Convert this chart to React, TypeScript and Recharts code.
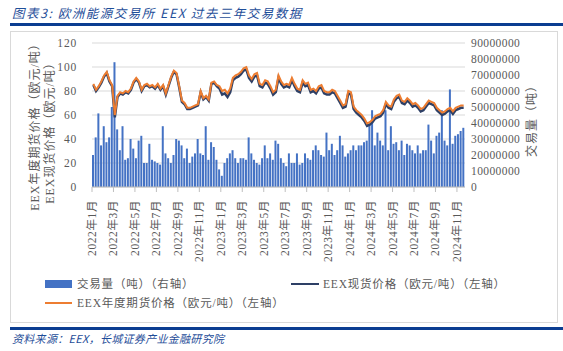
import React from 'react';
import { ComposedChart, Bar, Line, XAxis, YAxis, CartesianGrid } from 'recharts';

// 4 readings per month (roughly weekly), 2022年1月 .. mid 2024年11月
// 交易量, million tonnes
const volumeMt = [
  20, 31, 46, 26, 38, 28, 31, 50, 78, 36, 23, 38, 17, 18, 30, 24,
  18, 29, 32, 15, 15, 27, 17, 16, 15, 14, 38, 21, 18, 15, 20, 30,
  29, 26, 18, 24, 15, 19, 21, 30, 21, 20, 38, 17, 28, 25, 17, 11,
  7, 15, 18, 21, 23, 18, 15, 18, 18, 17, 31, 21, 17, 15, 14, 18,
  26, 18, 21, 17, 29, 27, 18, 15, 13, 21, 15, 15, 21, 14, 15, 21,
  18, 17, 23, 26, 23, 20, 19, 34, 23, 27, 20, 23, 32, 26, 19, 21,
  23, 26, 23, 26, 26, 28, 29, 39, 48, 26, 34, 29, 26, 48, 23, 38,
  27, 28, 23, 29, 20, 27, 26, 23, 21, 26, 21, 23, 23, 39, 29, 21,
  32, 34, 48, 29, 26, 61, 27, 32, 33, 35, 37,
];

// EEX现货价格 (欧元/吨)
const spotPrice = [
  85, 80, 83, 87, 92, 95, 88, 84, 58, 75, 78, 77, 79, 78, 81, 87,
  90, 87, 80, 84, 85, 83, 84, 82, 85, 81, 84, 77, 84, 91, 96, 94,
  83, 71, 69, 65, 65, 66, 67, 68, 79, 73, 75, 72, 86, 87, 84, 82,
  77, 78, 75, 79, 89, 91, 92, 94, 97, 98, 91, 88, 92, 93, 84, 83,
  87, 86, 82, 77, 79, 91, 86, 83, 84, 83, 89, 84, 80, 79, 87, 84,
  85, 79, 80, 78, 82, 83, 78, 77, 77, 79, 78, 74, 70, 66, 67, 78,
  77, 65, 62, 60, 58, 55, 51, 52, 54, 57, 58, 59, 62, 69, 66, 65,
  71, 74, 75, 70, 69, 72, 70, 67, 68, 66, 63, 64, 67, 70, 69, 68,
  64, 62, 60, 61, 63, 64, 61, 64, 65, 66, 66,
];

// EEX年度期货价格 (欧元/吨)
const futuresPrice = [
  86, 81, 84, 88, 93, 96, 89, 85, 60, 76, 79, 78, 80, 79, 82, 88,
  91, 88, 81, 85, 86, 84, 85, 83, 86, 82, 85, 78, 85, 92, 97, 95,
  84, 72, 70, 66, 66, 67, 68, 69, 80, 74, 76, 73, 87, 88, 85, 84,
  80, 81, 78, 82, 91, 93, 94, 96, 99, 100, 93, 90, 94, 95, 86, 85,
  89, 88, 84, 79, 81, 93, 88, 85, 86, 85, 91, 86, 82, 81, 89, 86,
  87, 81, 82, 80, 84, 85, 80, 79, 79, 81, 80, 76, 72, 68, 69, 80,
  79, 67, 64, 62, 60, 57, 53, 54, 56, 59, 60, 61, 64, 71, 68, 67,
  73, 76, 77, 72, 71, 74, 72, 69, 70, 68, 65, 66, 69, 72, 71, 70,
  66, 64, 62, 63, 65, 66, 63, 66, 67, 68, 68,
];

const tickLabels = [
  '2022年1月', '2022年3月', '2022年5月', '2022年7月', '2022年9月', '2022年11月',
  '2023年1月', '2023年3月', '2023年5月', '2023年7月', '2023年9月', '2023年11月',
  '2024年1月', '2024年3月', '2024年5月', '2024年7月', '2024年9月', '2024年11月',
];

const leftTicks = [0, 20, 40, 60, 80, 100, 120];
const rightTicks = [0, 10000000, 20000000, 30000000, 40000000, 50000000, 60000000, 70000000, 80000000, 90000000];

// t = months since 2022年1月 (centre of each quarter-month slot)
const data = volumeMt.map((v, i) => ({
  t: i / 4 + 0.125,
  volume: v * 1000000,
  spot: spotPrice[i],
  futures: futuresPrice[i],
}));

const FONT = "'Liberation Serif', 'Noto Sans CJK SC', serif";
const GREY = '#595959';

const MonthTick = (props: any) => {
  const { x, y, payload } = props;
  const label = tickLabels[Math.round(payload.value / 2)];
  return (
    <text
      x={x}
      y={y}
      dy="0.35em"
      textAnchor="end"
      transform={`rotate(-90, ${x}, ${y})`}
      fill={GREY}
      fontSize={11.5}
      fontFamily={FONT}
      letterSpacing={0.6}
    >
      {label}
    </text>
  );
};

const vText = (text: string, cx: number, cy: number) => (
  <div
    style={{
      position: 'absolute',
      left: cx,
      top: cy,
      transform: 'translate(-50%, -50%) rotate(-90deg)',
      whiteSpace: 'nowrap',
      fontFamily: FONT,
      fontSize: 12,
      letterSpacing: 1,
      color: GREY,
      lineHeight: 1,
    }}
  >
    {text}
  </div>
);

const App: React.FC = () => {
  return (
    <div style={{ position: 'absolute', left: 0, top: 0, width: 563, height: 351, background: '#fff', overflow: 'hidden' }}>
      <div
        style={{
          position: 'absolute', left: 12, top: 5, fontFamily: "'Noto Sans CJK SC', sans-serif",
          fontStyle: 'italic', fontSize: 12.5, letterSpacing: 1.5, color: '#1F4E99', whiteSpace: 'nowrap', lineHeight: '16px',
        }}
      >
        图表3: 欧洲能源交易所 EEX 过去三年交易数据
      </div>
      <div style={{ position: 'absolute', left: 10, right: 0, top: 23, height: 2.5, background: '#0B3D91' }} />
      <div style={{ position: 'absolute', left: 10, top: 31, width: 546, height: 290, border: '1px solid #D9D9D9' }} />

      <div style={{ position: 'absolute', left: 0, top: 0 }}>
        <ComposedChart width={563} height={270} data={data} margin={{ top: 43, right: 38, bottom: 23, left: 62 }}>
          <CartesianGrid yAxisId="left" vertical={false} stroke="#D9D9D9" />
          <XAxis
            dataKey="t"
            type="number"
            domain={[0, 34.75]}
            ticks={[0, 2, 4, 6, 8, 10, 12, 14, 16, 18, 20, 22, 24, 26, 28, 30, 32, 34]}
            interval={0}
            height={60}
            tick={<MonthTick />}
            tickSize={5}
            tickMargin={8}
            stroke="#BFBFBF"
          />
          <YAxis
            yAxisId="left"
            orientation="left"
            domain={[0, 120]}
            ticks={leftTicks}
            interval={0}
            width={30}
            axisLine={false}
            tickLine={false}
            tickSize={0}
            tickMargin={15}
            tick={{ fill: GREY, fontSize: 11.5, fontFamily: FONT, letterSpacing: 0.8 }}
          />
          <YAxis
            yAxisId="right"
            orientation="right"
            domain={[0, 90000000]}
            ticks={rightTicks}
            interval={0}
            width={60}
            axisLine={false}
            tickLine={false}
            tickSize={0}
            tickMargin={6}
            tick={{ fill: GREY, fontSize: 11.5, fontFamily: FONT, letterSpacing: 0.4 }}
          />
          <Bar yAxisId="right" dataKey="volume" fill="#4472C4" barSize={2} isAnimationActive={false} />
          <Line yAxisId="left" type="linear" dataKey="spot" stroke="#2E4066" strokeWidth={2.5} dot={false} isAnimationActive={false} />
          <Line yAxisId="left" type="linear" dataKey="futures" stroke="#ED7D31" strokeWidth={2} dot={false} isAnimationActive={false} />
        </ComposedChart>
      </div>

      {vText('EEX年度期货价格（欧元/吨）', 35, 124)}
      {vText('EEX现货价格（欧元/吨）', 50, 130)}
      {vText('交易量（吨）', 532, 118)}

      <div style={{ position: 'absolute', left: 45, top: 280, width: 27, height: 8, background: '#4472C4' }} />
      <div style={{ position: 'absolute', left: 77, top: 277, fontFamily: FONT, fontSize: 11.5, letterSpacing: 0.8, color: GREY, whiteSpace: 'nowrap', lineHeight: '14px' }}>
        交易量（吨）（右轴）
      </div>
      <div style={{ position: 'absolute', left: 291, top: 283, width: 28, height: 2, background: '#2E4066' }} />
      <div style={{ position: 'absolute', left: 323, top: 277, fontFamily: FONT, fontSize: 11.5, letterSpacing: 0.8, color: GREY, whiteSpace: 'nowrap', lineHeight: '14px' }}>
        EEX现货价格（欧元/吨）（左轴）
      </div>
      <div style={{ position: 'absolute', left: 45, top: 302, width: 27, height: 2, background: '#ED7D31' }} />
      <div style={{ position: 'absolute', left: 77, top: 296, fontFamily: FONT, fontSize: 11.5, letterSpacing: 0.8, color: GREY, whiteSpace: 'nowrap', lineHeight: '14px' }}>
        EEX年度期货价格（欧元/吨）（左轴）
      </div>

      <div style={{ position: 'absolute', left: 10, right: 0, top: 327, height: 2.5, background: '#0B3D91' }} />
      <div
        style={{
          position: 'absolute', left: 12, top: 331, fontFamily: "'Noto Sans CJK SC', sans-serif",
          fontStyle: 'italic', fontSize: 11, letterSpacing: 0.3, color: '#1F4E99', whiteSpace: 'nowrap', lineHeight: '14px',
        }}
      >
        资料来源：EEX，长城证券产业金融研究院
      </div>
    </div>
  );
};

export default App;
